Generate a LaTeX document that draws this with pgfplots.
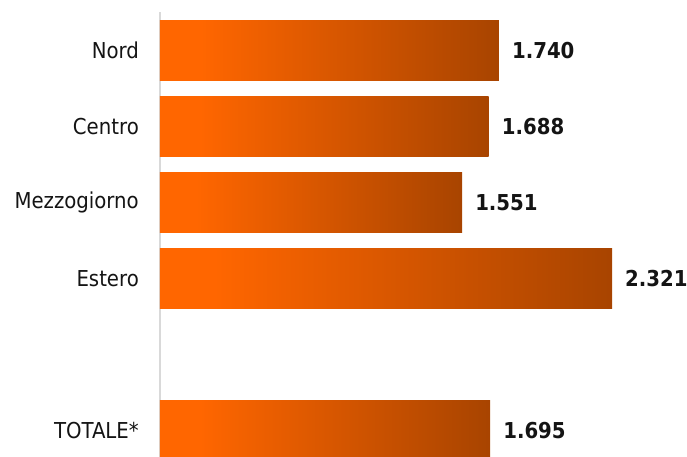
\documentclass[border=0pt]{standalone}
\usepackage{pgfplots}
\pgfplotsset{compat=1.18}
\usepackage{fontspec}
\setmainfont{DejaVu Sans Condensed}
\definecolor{c1}{HTML}{FF6600}
\definecolor{c2}{HTML}{A84400}
\definecolor{txt}{HTML}{141414}
\pgfdeclarehorizontalshading{bargrad}{100bp}{color(0bp)=(c1); color(31bp)=(c1); color(75bp)=(c2); color(100bp)=(c2)}
\begin{document}
\begin{tikzpicture}
\begin{axis}[
  xbar, bar width=60bp, bar shift=0pt,
  scale only axis, width=527bp, height=445bp,
  xmin=0, xmax=2.706, ymin=-0.342, ymax=5.5,
  axis x line=none, axis y line*=left,
  y axis line style={draw=gray!30, line width=1.5bp, -},
  ytick={0,2,3,4,5}, yticklabels={TOTALE*,Estero,Mezzogiorno,Centro,Nord},
  major tick length=0pt,
  yticklabel style={font=\fontsize{22}{26}\selectfont, text=txt, anchor=east, inner sep=0pt, xshift=-21bp},
  nodes near coords,
  every node near coord/.append style={font=\bfseries\fontsize{22}{26}\selectfont, text=txt, anchor=west, inner sep=0pt, xshift=13bp, /pgf/number format/.cd, fixed, fixed zerofill, precision=3, assume math mode=true},
]
\addplot[draw=none, shade, shading=bargrad] coordinates {(1.740,5)};
\addplot[draw=none, shade, shading=bargrad] coordinates {(1.688,4)};
\addplot[draw=none, shade, shading=bargrad] coordinates {(1.551,3)};
\addplot[draw=none, shade, shading=bargrad] coordinates {(2.321,2)};
\addplot[draw=none, shade, shading=bargrad] coordinates {(1.695,0)};
\end{axis}
\pgfresetboundingbox
\path[use as bounding box] ([xshift=-160bp]current axis.south west) rectangle ([xshift=527bp,yshift=457bp]current axis.south west);
\end{tikzpicture}
\end{document}
